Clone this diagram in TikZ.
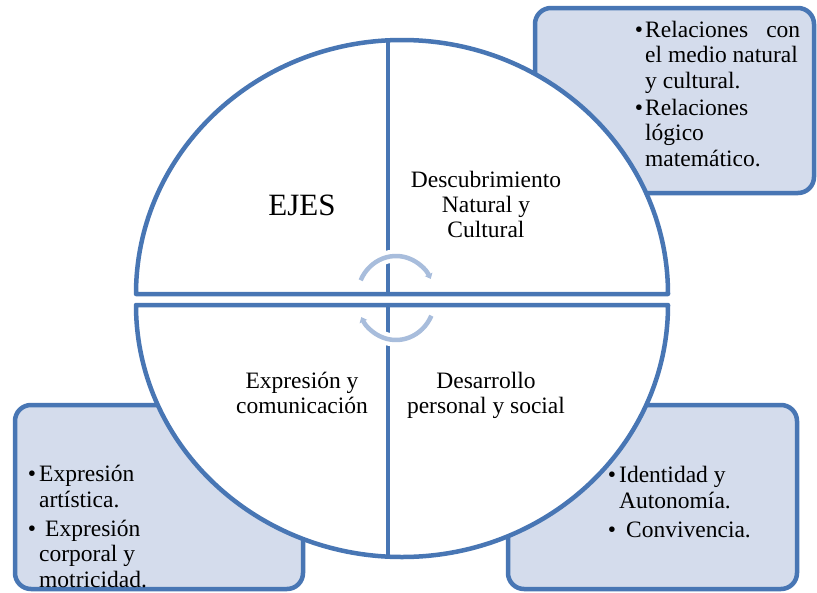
\documentclass[tikz,border=0pt]{standalone}
\usepackage{fontspec}
\setmainfont{Liberation Serif}
\usetikzlibrary{arrows.meta}
\definecolor{bord}{RGB}{72,118,180}
\definecolor{boxfill}{RGB}{212,220,236}
\definecolor{arccol}{RGB}{168,189,220}
\begin{document}
\begin{tikzpicture}[x=1pt,y=1pt,
  sidebox/.style={draw=bord, fill=boxfill, line width=4.5pt, rounded corners=16pt},
  half/.style={draw=bord, fill=white, line width=4.5pt, line join=round},
  divider/.style={draw=bord, line width=4.5pt},
  cyc/.style={draw=arccol, line width=4.5pt, -{Triangle[width=8pt,length=5pt]}},
  halo/.style={draw=white, line width=13pt},
  lbl/.style={font=\fontsize{23.5}{25}\selectfont, align=center, inner sep=0pt, anchor=base},
  boxtext/.style={font=\fontsize{23.5}{25.5}\selectfont, align=left, inner sep=0pt, anchor=base west}]
\useasboundingbox (0,0) rectangle (817,-592);
\fill[white] (0,0) rectangle (817,-592);
% side boxes
\draw[sidebox] (535,-8) rectangle (814,-193);
\draw[sidebox] (15,-405) rectangle (303,-589);
\draw[sidebox] (508,-405) rectangle (797,-589);
% circle halves
\draw[half] (136,-294) arc[start angle=180, end angle=0, x radius=266, y radius=254] -- cycle;
\draw[half] (136,-305) arc[start angle=180, end angle=360, x radius=266, y radius=252] -- cycle;
\coordinate (vt) at (388,-41);
\coordinate (vm1) at (388,-294);
\coordinate (vm2) at (388,-305);
\coordinate (vb) at (388,-556);
\draw[divider] (vt) -- (vm1);
\draw[divider] (vm2) -- (vb);
% cycle arrows
\coordinate (cc) at (396,-298);
\draw[halo] (cc) ++(155:39 and 42) arc[start angle=155, end angle=30, x radius=39, y radius=42];
\draw[halo] (cc) ++(-25:39 and 42) arc[start angle=-25, end angle=-150, x radius=39, y radius=42];
\draw[cyc] (cc) ++(155:39 and 42) arc[start angle=155, end angle=27, x radius=39, y radius=42];
\draw[cyc] (cc) ++(-25:39 and 42) arc[start angle=-25, end angle=-153, x radius=39, y radius=42];
% quadrant labels (anchor = baseline of last line)
\node[lbl, font=\fontsize{31}{33}\selectfont] (ejes) at (302,-215) {EJES};
\node[lbl] (desc) at (486,-237) {Descubrimiento\\Natural y\\Cultural};
\node[lbl] (expr) at (302,-413) {Expresión y\\comunicación};
\node[lbl] (desa) at (486,-413) {Desarrollo\\personal y social};
% box texts
\node[boxtext] (tr) at (645,-166) {\llap{\textbullet\hspace{2pt}}\hbox to 155pt{Relaciones\hfill con}\\el medio natural\\y cultural.\\[1.5pt]\llap{\textbullet\hspace{2pt}}Relaciones\\lógico\\matemático.};
\node[boxtext] (bl) at (39,-587) {\llap{\textbullet\hspace{3pt}}Expresión\\artística.\\[3.5pt]\llap{\textbullet\hspace{3pt}}\hspace{6pt}Expresión\\corporal y\\motricidad.};
\node[boxtext] (br) at (619,-537) {\llap{\textbullet\hspace{3pt}}Identidad y\\Autonomía.\\[3.5pt]\llap{\textbullet\hspace{3pt}}\hspace{7pt}Convivencia.};
\end{tikzpicture}
\end{document}
